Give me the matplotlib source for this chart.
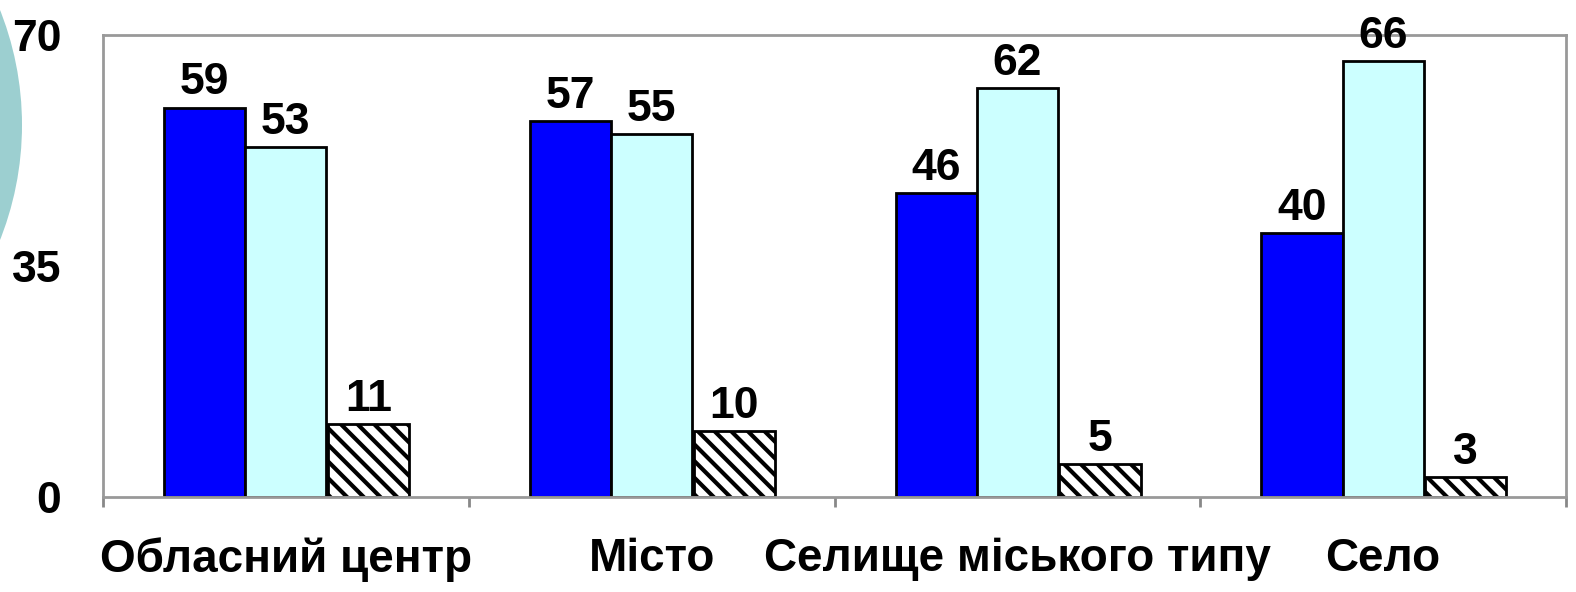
import matplotlib
matplotlib.use("Agg")
import matplotlib.pyplot as plt
import numpy as np
from matplotlib.patches import Ellipse

categories = ["Обласний центр", "Місто", "Селище міського типу", "Село"]
series_a = [59, 57, 46, 40]
series_b = [53, 55, 62, 66]
series_c = [11, 10, 5, 3]
y_ticks = [0, 35, 70]

plt.rcParams['font.family'] = ['Liberation Sans', 'DejaVu Sans']
plt.rcParams['font.weight'] = 'bold'
plt.rcParams['hatch.linewidth'] = 3.0
plt.rcParams['hatch.color'] = '#222222'

W, H = 1576, 592
fig = plt.figure(figsize=(W / 100, H / 100), dpi=100)

# decorative circle on the left edge (sizes in pixels -> figure fraction)
r = 312
circ = Ellipse((-290 / W, (H - 125) / H), 2 * r / W, 2 * r / H, transform=fig.transFigure,
               facecolor='#9ccfd0', edgecolor='none', zorder=0)
fig.patches.append(circ)

ax = fig.add_axes([103 / W, (H - 497) / H, (1566 - 103) / W, (497 - 35) / H])
ax.patch.set_alpha(0)

x = np.arange(len(categories)) + 0.5
w = 0.222
bars_a = ax.bar(x - w, series_a, w, color='#0000ff', edgecolor='black', linewidth=2)
bars_b = ax.bar(x, series_b, w, color='#ccffff', edgecolor='black', linewidth=2)
bars_c = ax.bar(x + w + 0.004, series_c, w, color='white', edgecolor='black', linewidth=2,
                hatch='\\\\')

for bars, vals in [(bars_a, series_a), (bars_b, series_b), (bars_c, series_c)]:
    for b, v in zip(bars, vals):
        ax.annotate(str(v), (b.get_x() + b.get_width() / 2, v), xytext=(0, 3),
                    textcoords='offset points', ha='center', va='bottom',
                    fontsize=32, fontweight='bold', annotation_clip=False)

ax.set_xlim(0, 4)
ax.set_ylim(0, 70)
ax.set_yticks(y_ticks)
ax.set_yticklabels([str(t) for t in y_ticks], fontsize=32, fontweight='bold')
ax.tick_params(axis='y', length=0, pad=30)

ax.set_xticks(range(5))
ax.set_xticklabels([])
ax.set_xticks(x, minor=True)
ax.set_xticklabels(categories, minor=True, fontsize=33, fontweight='bold')
ax.tick_params(axis='x', which='major', length=7, width=2, color='#888888', direction='out')
ax.tick_params(axis='x', which='minor', length=0, pad=29)

for s in ax.spines.values():
    s.set_color('#999999')
    s.set_linewidth(2)

fig.savefig("out.png", dpi=100)
